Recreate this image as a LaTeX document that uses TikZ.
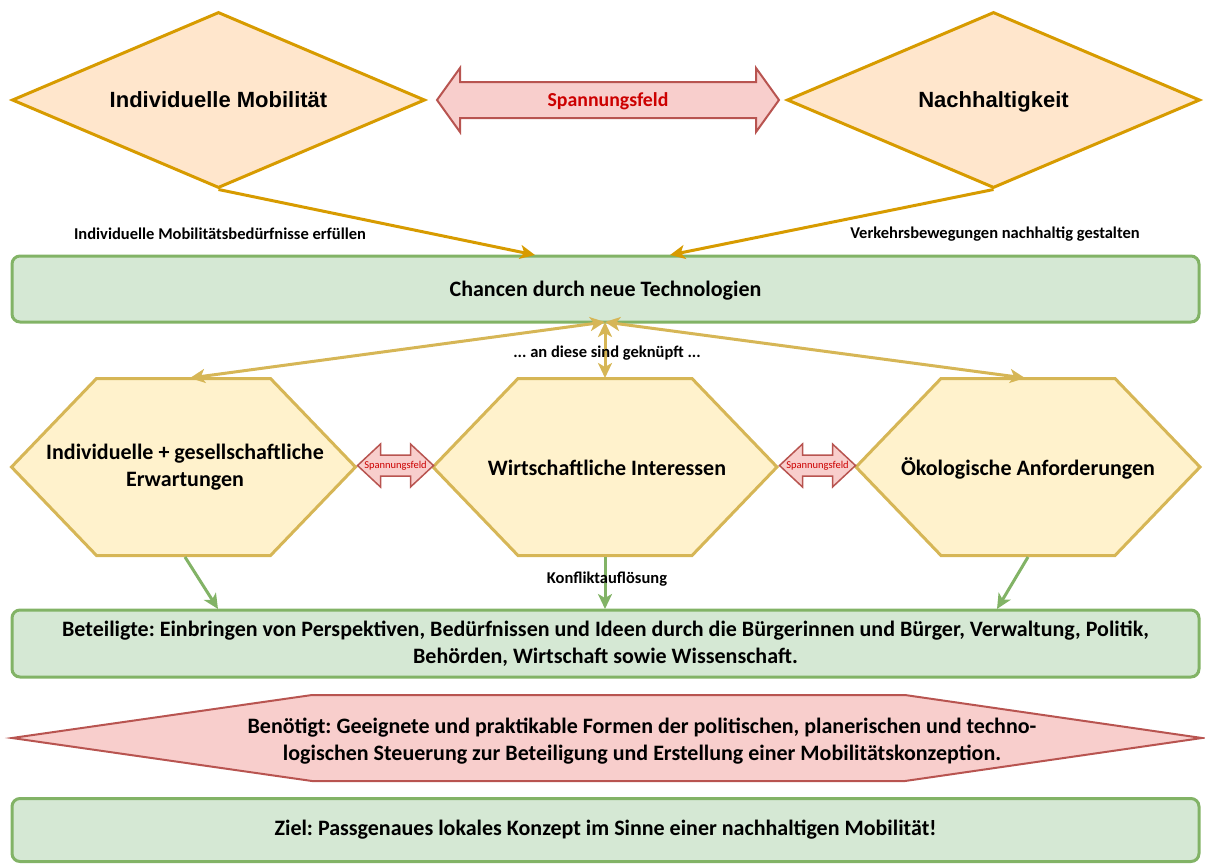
\documentclass[tikz,border=0pt]{standalone}
\usepackage{fontspec}
\setmainfont{Carlito}
\newfontfamily\arialfont{Liberation Sans}
\usepackage{tikz}
\usetikzlibrary{calc}
\usetikzlibrary{arrows.meta}
\usetikzlibrary{shapes.geometric}
\frenchspacing

\definecolor{orfill}{HTML}{FFE6CC}
\definecolor{ordraw}{HTML}{D79B00}
\definecolor{yefill}{HTML}{FFF2CC}
\definecolor{yedraw}{HTML}{D6B656}
\definecolor{grfill}{HTML}{D5E8D4}
\definecolor{grdraw}{HTML}{82B366}
\definecolor{rdfill}{HTML}{F8CECC}
\definecolor{rddraw}{HTML}{B85450}
\definecolor{rdtext}{HTML}{CC0000}

\tikzset{
  diam/.style={diamond, aspect=2.35, draw=ordraw, fill=orfill, line width=3pt,
    minimum width=413pt, minimum height=176pt, inner sep=0pt, text depth=0pt,
    font=\arialfont\bfseries\fontsize{22}{25}\selectfont},
  greenbox/.style={rectangle, rounded corners=8pt, draw=grdraw, fill=grfill,
    line width=3pt, minimum width=1187pt, inner sep=0pt, align=center,
    font=\bfseries\fontsize{22}{26.5}\selectfont},
  hexbox/.style={draw=yedraw, fill=yefill, line width=3pt},
  redbox/.style={draw=rddraw, fill=rdfill, line width=2pt},
  smallred/.style={draw=rddraw, fill=rdfill, line width=1.5pt},
  bodytext/.style={align=center, inner sep=0pt, font=\bfseries\fontsize{22}{26.5}\selectfont},
  hextext/.style={align=center, inner sep=0pt, font=\bfseries\fontsize{22}{27}\selectfont},
  smalllabel/.style={inner sep=0pt, font=\bfseries\fontsize{16.5}{19}\selectfont},
  orarrow/.style={draw=ordraw, line width=3pt, -{Stealth[length=15pt, width=14pt, inset=4pt]}},
  yearrow/.style={draw=yedraw, line width=3pt,
    {Stealth[length=15pt, width=14pt, inset=4pt]}-{Stealth[length=15pt, width=14pt, inset=4pt]}},
  grarrow/.style={draw=grdraw, line width=3pt, -{Stealth[length=15pt, width=14pt, inset=4pt]}}
}

\begin{document}
\begin{tikzpicture}[x=1pt, y=-1pt]
\useasboundingbox (0,0) rectangle (1205,863);

% top row
\node [diam] (imob) at (218.5,100) {Individuelle Mobilität};
\node [diam] (nach) at (993.5,100) {Nachhaltigkeit};

\draw [redbox] (437,100) -- (460,68) -- (460,82) -- (756,82) -- (756,68) -- (779,100)
  -- (756,132) -- (756,118) -- (460,118) -- (460,132) -- cycle;
\node [inner sep=0pt, text=rdtext, font=\bfseries\fontsize{19.8}{22}\selectfont] (spann) at (608,101) {Spannungsfeld};

\node [greenbox, minimum height=66pt, text depth=0pt] (chancen) at (605.5,289) {Chancen durch neue Technologien};
\coordinate (ch-l) at (535,255);
\coordinate (ch-r) at (670,255);
\draw [orarrow] (imob.south) -- (ch-l);
\draw [orarrow] (nach.south) -- (ch-r);

\node [smalllabel] (lbl-l) at (220,234) {Individuelle Mobilitätsbedürfnisse erfüllen};
\node [smalllabel] (lbl-r) at (995,234) {Verkehrsbewegungen nachhaltig gestalten};

% hexagons
\foreach \cx in {183.5,605,1028}
  \draw [hexbox] (\cx-172,467) -- (\cx-87,378.5) -- (\cx+87,378.5) -- (\cx+172,467)
    -- (\cx+87,555.5) -- (\cx-87,555.5) -- cycle;

\node [hextext] (indiv) at (185,467) {Individuelle + gesellschaftliche\\Erwartungen};
\node [hextext] (wirt) at (607,468) {Wirtschaftliche Interessen};
\node [hextext] (oeko) at (1028,468) {Ökologische Anforderungen};

\coordinate (ch-b) at (605,322);
\coordinate (indiv-n) at (190,378);
\coordinate (wirt-n) at (605,378);
\coordinate (oeko-n) at (1025,378);
\foreach \t in {indiv-n,wirt-n,oeko-n} {\draw [yearrow] (ch-b) -- (\t);}
\node [smalllabel] (kn) at (607,353) {... an diese sind geknüpft ...};

\foreach \sx/\nm in {395.5/spann1,817.5/spann2} {
  \draw [smallred, shift={(\sx,465.5)}] (-38,0) -- (-15,-21.5) -- (-15,-10.5) -- (15,-10.5)
    -- (15,-21.5) -- (38,0) -- (15,21.5) -- (15,10.5) -- (-15,10.5) -- (-15,21.5) -- cycle;
  \node [inner sep=0pt, text=rdtext, font=\fontsize{10.5}{11}\selectfont] (\nm) at (\sx,465.5) {Spannungsfeld};
}

% Beteiligte
\coordinate (indiv-s) at (185,557);
\coordinate (wirt-s) at (605,557);
\coordinate (oeko-s) at (1028,557);
\coordinate (bet-1) at (218,609);
\coordinate (bet-2) at (605,609);
\coordinate (bet-3) at (997,609);
\draw [grarrow] (indiv-s) -- (bet-1);
\draw [grarrow] (wirt-s) -- (bet-2);
\draw [grarrow] (oeko-s) -- (bet-3);
\node [smalllabel] (konf) at (607,579) {Konfliktauflösung};

\node [greenbox, minimum height=67pt] (beteil) at (605.5,643.5) {Beteiligte: Einbringen von Perspektiven, Bedürfnissen und Ideen durch die Bürgerinnen und Bürger, Verwaltung, Politik,\\Behörden, Wirtschaft sowie Wissenschaft.};

\draw [redbox] (12,738) -- (312,695) -- (905,695) -- (1202,738) -- (905,781) -- (312,781) -- cycle;
\node [bodytext] (benoetigt) at (642,741) {Benötigt: Geeignete und praktikable Formen der politischen, planerischen und techno-\\logischen Steuerung zur Beteiligung und Erstellung einer Mobilitätskonzeption.};

\node [greenbox, minimum height=63pt] (ziel) at (605.5,830) {Ziel: Passgenaues lokales Konzept im Sinne einer nachhaltigen Mobilität!};

\end{tikzpicture}
\end{document}
